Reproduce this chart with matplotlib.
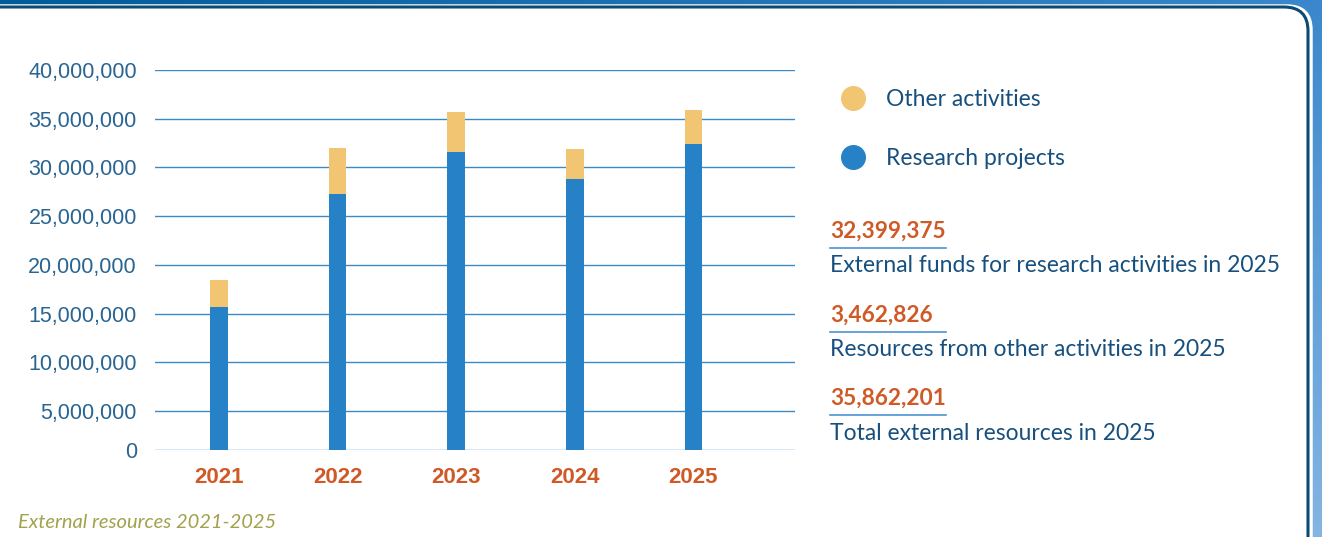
import numpy as np
import matplotlib
matplotlib.use("Agg")
import matplotlib.pyplot as plt
from matplotlib.patches import FancyBboxPatch
from matplotlib.lines import Line2D
from matplotlib.ticker import FuncFormatter, NullLocator

# Data
years = ["2021", "2022", "2023", "2024", "2025"]
research = [15680000, 27290000, 31610000, 28830000, 32399375]
other = [2780000, 4730000, 4110000, 3090000, 3462826]
y_ticks = [0, 5000000, 10000000, 15000000, 20000000, 25000000, 30000000, 35000000, 40000000]

stat_values = ["32,399,375", "3,462,826", "35,862,201"]
stat_texts = ["External funds for research activities in 2025",
              "Resources from other activities in 2025",
              "Total external resources in 2025"]

BLUE = "#2681c6"
GOLD = "#f1c572"
ORANGE = "#cf5a26"
NAVY = "#17507e"
TICK = "#2a6592"

W, H = 1322, 537
fig = plt.figure(figsize=(W / 100, H / 100), dpi=100)

# background: blue frame with white rounded card
bg = fig.add_axes([0, 0, 1, 1], zorder=-5)
bg.set_xlim(0, W)
bg.set_ylim(H, 0)
bg.axis("off")
dark = np.array([0.0, 0.36, 0.60])
mid = np.array([0.23, 0.53, 0.80])
light = np.array([0.55, 0.73, 0.90])
tx = np.linspace(0, 1, 200)[None, :, None]
ty = np.linspace(0, 1, 100)[:, None, None]
grad = dark + (mid - dark) * tx
grad = grad + (light - grad) * ty * 0.9
bg.imshow(grad, extent=(0, W, H, 0), aspect="auto")
bg.add_patch(FancyBboxPatch((-40, 6), 1351, 600,
                            boxstyle="round,pad=0,rounding_size=24",
                            facecolor="white", edgecolor="white", lw=2.5))
bg.add_patch(FancyBboxPatch((-40, 7), 1348, 600,
                            boxstyle="round,pad=0,rounding_size=24",
                            facecolor="white", edgecolor="#0b4b72", lw=2.2))

# chart with a squeezed first 5M step, as in the source
def fwd(y):
    y = np.asarray(y, dtype=float)
    return np.where(y <= 5e6, y * 0.8, y - 1e6)

def inv(u):
    u = np.asarray(u, dtype=float)
    return np.where(u <= 4e6, u / 0.8, u + 1e6)

ax = fig.add_axes([155 / W, 87 / H, 640 / W, 380 / H])
ax.set_yscale("function", functions=(fwd, inv))
x = np.arange(len(years))
ax.bar(x, research, width=0.148, color=BLUE, zorder=3)
ax.bar(x, other, width=0.148, bottom=research, color=GOLD, zorder=3)
ax.set_xlim(-0.54, 4.857)
ax.set_ylim(0, 40000000)
ax.set_yticks(y_ticks)
ax.yaxis.set_major_formatter(FuncFormatter(lambda v, p: f"{int(round(v)):,}"))
ax.yaxis.set_minor_locator(NullLocator())
ax.set_xticks(x)
ax.set_xticklabels(years)
ax.yaxis.grid(True, color="#3a8ac8", lw=1.0, zorder=0)
ax.set_axisbelow(True)
for s in ax.spines.values():
    s.set_visible(False)
ax.tick_params(axis="y", length=0, pad=13, labelsize=15.5, labelcolor=TICK)
ax.tick_params(axis="x", length=0, pad=12.5, labelcolor=ORANGE)
for lab in ax.get_yticklabels():
    lab.set_family("Liberation Sans")
for lab in ax.get_xticklabels():
    lab.set_family("Liberation Sans")
    lab.set_fontweight("bold")
    lab.set_fontsize(16)

# legend
handles = [Line2D([], [], ls="", marker="o", ms=17, color=GOLD),
           Line2D([], [], ls="", marker="o", ms=17, color=BLUE)]
fig.legend(handles, ["Other activities", "Research projects"],
           loc="upper left", bbox_to_anchor=(841.5 / W, 1 - 89 / H),
           frameon=False, labelspacing=1.65, handlelength=1.0, handletextpad=0.92,
           borderpad=0, borderaxespad=0,
           prop={"family": "Lato", "size": 16.5}, labelcolor=NAVY)

# summary figures
rows_y = [231, 315, 398]
for val, txt, yy in zip(stat_values, stat_texts, rows_y):
    fig.text(830 / W, 1 - yy / H, val, ha="left", va="center",
             family="Lato", fontweight="bold", fontsize=16.3, color=ORANGE)
    bg.plot([830, 946], [yy + 17, yy + 17], color="#4d93d2", lw=1.2)
    fig.text(830 / W, 1 - (yy + 35) / H, txt, ha="left", va="center",
             family="Lato", fontsize=16.5, color=NAVY)

fig.text(18 / W, 1 - 522 / H, "External resources 2021-2025", ha="left", va="center",
         family="Lato", style="italic", fontsize=14.5, color="#a3a14c")

fig.savefig("out.png", dpi=100)
